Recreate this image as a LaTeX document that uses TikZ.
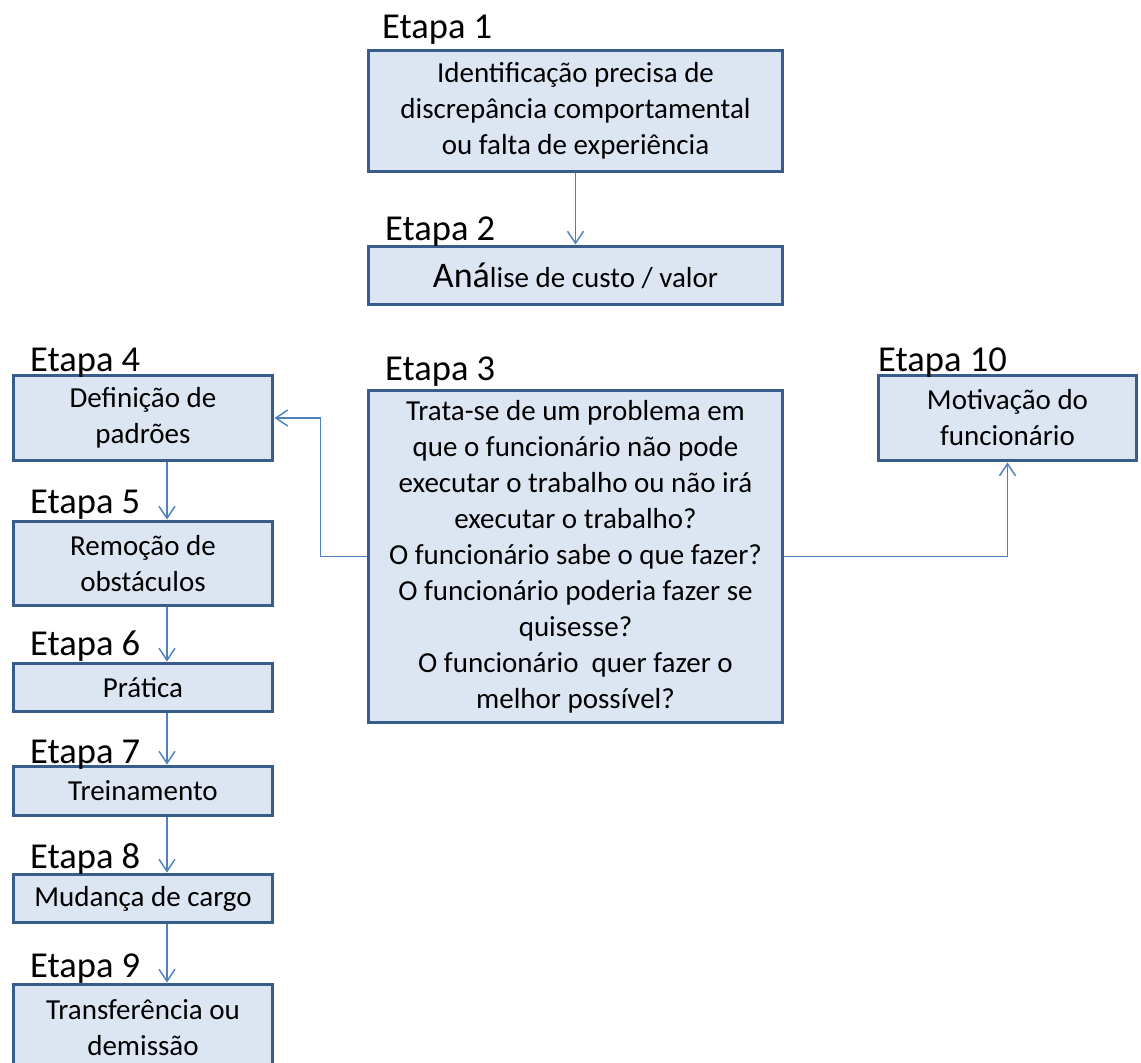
\documentclass[tikz,border=0pt]{standalone}
\usepackage{fontspec}
\setmainfont{Carlito}
\usetikzlibrary{arrows.meta,positioning}
\definecolor{caixaborda}{RGB}{56,93,138}
\definecolor{caixafundo}{RGB}{220,230,242}
\definecolor{setacor}{RGB}{79,129,189}
\begin{document}
\begin{tikzpicture}[x=1pt,y=-1pt,
    caixa/.style={draw=caixaborda,fill=caixafundo,line width=3.8pt,rectangle,align=center,
      inner sep=0pt,font=\fontsize{29}{36}\selectfont},
    etapa/.style={anchor=base west,inner sep=0pt,font=\fontsize{36.5}{36.5}\selectfont},
    liga/.style={draw=setacor,line width=1.5pt,-{Straight Barb[length=12pt,width=16pt]}}]
  \useasboundingbox (0,0) rectangle (1141,1063);
  % coluna do meio
  \node[caixa,minimum width=414pt,minimum height=121pt] (e1) at (575.5,111) {Identificação precisa de\\discrepância comportamental\\ou falta de experiência};
  \node[caixa,minimum width=414pt,minimum height=58pt] (e2) at (575.5,275.5) {{\fontsize{36}{36}\selectfont Aná}lise de custo / valor};
  \node[caixa,minimum width=414pt,minimum height=332pt] (e3) at (575.5,556.5) {Trata-se de um problema em\\que o funcionário não pode\\executar o trabalho ou não irá\\executar o trabalho?\\O funcionário sabe o que fazer?\\O funcionário poderia fazer se\\quisesse?\\O funcionário\ \ quer fazer o\\melhor possível?};
  \node[caixa,minimum width=258pt,minimum height=85pt] (e10) at (1007.5,418) {Motivação do\\funcionário};
  \node[etapa] (r1) at (382,38) {Etapa 1};
  \node[etapa] (r2) at (385,240) {Etapa 2};
  \node[etapa] (r3) at (385,380) {Etapa 3};
  \node[etapa] (r10) at (878,371) {Etapa 10};
  % coluna da esquerda
  \foreach \n/\y/\h/\t in {4/418/85/{Definição de\\padrões},5/563.5/84/{Remoção de\\obstáculos},
      6/687.5/48/Prática,7/791/49/Treinamento,8/898.5/48/Mudança de cargo,9/1028/87/{Transferência ou\\demissão}}
    \node[caixa,minimum width=259pt,minimum height=\h pt] (e\n) at (143,\y) {\t};
  \foreach \n/\yb in {4/371,5/513,6/655,7/763,8/868,9/977}
    \node[etapa] (r\n) at (30,\yb) {Etapa \n};
  % setas
  \draw[liga] (e1.south) -- (e2.north);
  \foreach \a/\b in {4/5,5/6,6/7,7/8,8/9}
    \draw[liga] ([xshift=24pt]e\a.south) -- ([xshift=24pt]e\b.north);
  \draw[liga] (e3.west) -- ++(-46,0) |- (e4.east);
  \draw[liga] (e3.east) -| (e10.south);
\end{tikzpicture}
\end{document}
